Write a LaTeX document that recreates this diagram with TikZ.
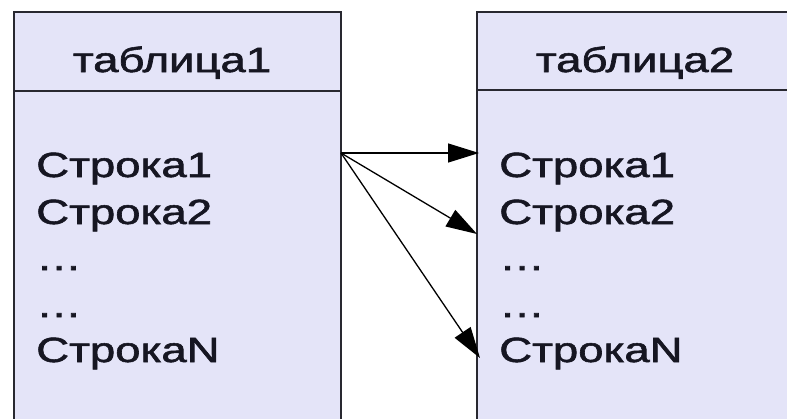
\documentclass[tikz,border=0pt]{standalone}
\usepackage{fontspec}
\setmainfont{Liberation Sans}
\newfontfamily\tablefont{Liberation Sans}[FakeBold=1.5]
\usetikzlibrary{arrows.meta}
\definecolor{tablefill}{RGB}{228,228,248}
\definecolor{edge}{RGB}{40,40,48}
\definecolor{ink}{RGB}{22,22,34}
\tikzset{
  tablebox/.style={draw=edge, line width=1.8pt, fill=tablefill},
  rowtext/.style={font=\tablefont\fontsize{35}{35}\selectfont, text=ink, inner sep=0pt, xscale=1.3, transform shape},
  headtext/.style={rowtext, anchor=base},
  link/.style={draw=black, line width=1.3pt, -{Triangle[length=31pt,width=19pt]}}
}
\begin{document}
\begin{tikzpicture}[x=1pt,y=-1pt]
  \useasboundingbox (0,0) rectangle (787,418);
  \clip (0,0) rectangle (787,418);
  \fill[white] (0,0) rectangle (787,418);

  % the two tables; both run on past the lower edge, the second past the right one
  \draw[tablebox] (14,12) rectangle (341,440);
  \draw[edge, line width=1.8pt] (14,91) -- (341,91);
  \draw[tablebox] (477,12) rectangle (800,440);
  \draw[edge, line width=1.8pt] (477,90) -- (800,90);

  % headers
  \node[headtext] (h1) at (172,72) {таблица1};
  \node[headtext] (h2) at (635,72) {таблица2};

  % rows of the first table
  \node[rowtext, anchor=base west] (l1) at (36,177) {Строка1};
  \node[rowtext, anchor=base west] (l2) at (36,224) {Строка2};
  \node[rowtext, anchor=base west] (l3) at (36,270) {…};
  \node[rowtext, anchor=base west] (l4) at (36,317) {…};
  \node[rowtext, anchor=base west] (l5) at (36,362) {СтрокаN};

  % rows of the second table
  \node[rowtext, anchor=base west] (r1) at (499,177) {Строка1};
  \node[rowtext, anchor=base west] (r2) at (499,224) {Строка2};
  \node[rowtext, anchor=base west] (r3) at (499,270) {…};
  \node[rowtext, anchor=base west] (r4) at (499,317) {…};
  \node[rowtext, anchor=base west] (r5) at (499,362) {СтрокаN};

  % references from row 1 to rows of the second table
  \coordinate (src) at (341,153);
  \coordinate (d1) at (479,153);
  \coordinate (d2) at (477,234);
  \coordinate (d3) at (480,358);
  \draw[link] (src) -- (d1);
  \draw[link] (src) -- (d2);
  \draw[link] (src) -- (d3);
\end{tikzpicture}
\end{document}
